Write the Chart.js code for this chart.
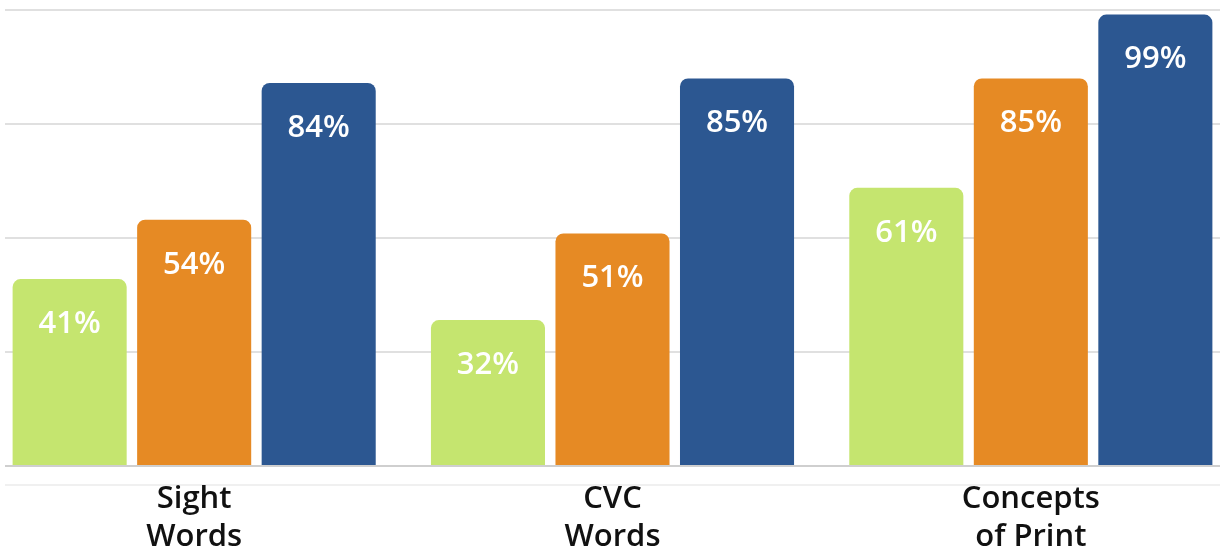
<!DOCTYPE html>
<html>
<head>
<meta charset="utf-8">
<script src="https://cdn.jsdelivr.net/npm/chart.js@4/dist/chart.umd.min.js"></script>
<style>
    html, body { margin: 0; padding: 0; background: #fff; overflow: hidden; }
    #clip { position: absolute; left: 5px; top: 0; width: 1215px; height: 553px; overflow: hidden; }
    #wrap { position: absolute; left: -20px; top: 0; width: 1255px; height: 553px; }
</style>
</head>
<body>
<div id="clip"><div id="wrap"><canvas id="myChart" width="1255" height="553"></canvas></div></div>
<script>
const categories = [['Sight', 'Words'], ['CVC', 'Words'], ['Concepts', 'of Print']];
const seriesGreen = [41, 32, 61];
const seriesOrange = [54, 51, 85];
const seriesBlue = [84, 85, 99];
const barColors = ['#c5e56f', '#e68a24', '#2c5791'];

// white percent labels near the top of each bar
const valueLabels = {
    id: 'valueLabels',
    beforeDraw(chart) {
        const ctx = chart.ctx;
        const area = chart.chartArea;
        ctx.save();
        ctx.strokeStyle = '#f0f0f0';
        ctx.lineWidth = 2;
        ctx.beginPath();
        ctx.moveTo(area.left, area.bottom + 19);
        ctx.lineTo(area.right, area.bottom + 19);
        ctx.stroke();
        ctx.restore();
    },
    afterDatasetsDraw(chart) {
        const ctx = chart.ctx;
        ctx.save();
        ctx.fillStyle = '#ffffff';
        ctx.font = '600 31px "Open Sans"';
        ctx.textAlign = 'center';
        ctx.textBaseline = 'middle';
        chart.data.datasets.forEach(function (ds, i) {
            chart.getDatasetMeta(i).data.forEach(function (bar, j) {
                ctx.fillText(ds.data[j] + '%', bar.x, bar.y + 45);
            });
        });
        ctx.restore();
    }
};

const data = {
    labels: categories,
    datasets: [seriesGreen, seriesOrange, seriesBlue].map(function (values, i) {
        return {
            data: values,
            backgroundColor: barColors[i],
            borderRadius: { topLeft: 8, topRight: 8, bottomLeft: 0, bottomRight: 0 },
            borderSkipped: false,
            categoryPercentage: 0.893,
            barPercentage: 0.916
        };
    })
};

const config = {
    type: 'bar',
    data,
    plugins: [valueLabels],
    options: {
        responsive: false,
        animation: false,
        layout: { padding: { top: 10, left: 0, right: 0, bottom: 0 } },
        plugins: {
            legend: { display: false },
            tooltip: { enabled: false }
        },
        scales: {
            x: {
                grid: { display: false, drawTicks: false },
                border: { display: false },
                afterFit: function (scale) { scale.height = 87; },
                ticks: {
                    color: '#111',
                    padding: 14,
                    maxRotation: 0,
                    font: { family: '"Open Sans"', size: 31, weight: '600', lineHeight: 1.22 }
                }
            },
            y: {
                min: 0,
                max: 100,
                grid: {
                    drawTicks: false,
                    lineWidth: 2,
                    color: function (c) {
                        return c.tick && c.tick.value === 0 ? '#cfcfcf' : '#e0e0e0';
                    }
                },
                border: { display: false },
                ticks: { display: false, stepSize: 25 }
            }
        }
    }
};

const myChart = new Chart(
    document.getElementById('myChart'),
    config
);
</script>
</body>
</html>
